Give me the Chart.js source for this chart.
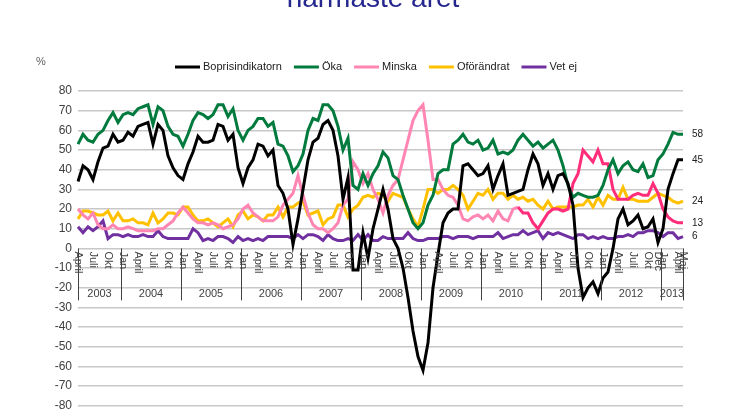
<!DOCTYPE html>
<html>
<head>
<meta charset="utf-8">
<script src="https://cdn.jsdelivr.net/npm/chart.js@4/dist/chart.umd.min.js"></script>
<style>
  body { margin: 0; background: #fff; overflow: hidden; }
  #wrap { position: relative; width: 746px; height: 419px; }
  #title { position: absolute; top: -18px; left: 0; width: 746px; text-align: center;
    font: 28px "Liberation Sans", Arial, sans-serif; color: #26268f; }
</style>
</head>
<body>
<div id="wrap">
  <div id="title">närmaste året</div>
  <canvas id="chart" width="746" height="419"></canvas>
</div>
<script>
// monthly, April 2003 - May 2013
const startYear = 2003;
const startMonth = 3; // April
const monthNames = ['Jan', 'Feb', 'Mars', 'April', 'Maj', 'Juni', 'Juli', 'Aug', 'Sep', 'Okt', 'Nov', 'Dec'];
const shownMonths = ['Jan', 'April', 'Juli', 'Okt'];
const extraTicks = { '2012-11': 'Dec', '2013-4': 'Maj' };
const years = ['2003', '2004', '2005', '2006', '2007', '2008', '2009', '2010', '2011', '2012', '2013'];

const boprisindikatorn = [
  34, 42, 40, 35, 44, 51, 52, 58, 54,
  55, 59, 57, 62, 63, 64, 53, 63, 60, 47, 41, 37,
  35, 43, 49, 57, 54, 54, 55, 63, 62, 55, 58, 41,
  33, 41, 45, 53, 52, 47, 50, 32, 28, 20, 2, 15,
  30, 45, 54, 56, 63, 65, 60, 47, 25, 36, -11, -11,
  8, -5, 10, 20, 30, 20, 5, 0, -10, -25, -42, -55,
  -62, -48, -20, -3, 13, 18, 20, 20, 42, 43, 40, 37,
  38, 42, 30, 37, 43, 27, 28, 29, 30, 40, 48, 43,
  32, 38, 30, 37, 38, 33, 22, -10, -25, -20, -17, -23,
  -15, -12, 0, 15, 20, 12, 14, 17, 10, 11, 15, 3,
  10, 30, 38, 45, 45
];
const oka = [
  53, 58, 55, 54, 58, 60, 65, 69, 64,
  68, 69, 68, 71, 72, 73, 63, 72, 70, 62, 58, 57,
  52, 58, 65, 69, 68, 66, 68, 73, 73, 67, 71, 60,
  55, 60, 62, 66, 66, 62, 64, 53, 52, 47, 39, 42,
  48, 60, 66, 65, 73, 73, 70, 62, 50, 56, 32, 30,
  38, 32, 38, 42, 49, 46, 37, 35, 27, 20, 13, 10,
  13, 22, 27, 38, 40, 40, 53, 55, 58, 54, 53, 55,
  50, 51, 55, 48, 49, 48, 50, 55, 58, 55, 52, 54,
  51, 53, 55, 50, 42, 32, 26, 28, 27, 26, 26, 27,
  32, 40, 45, 38, 42, 44, 40, 39, 43, 36, 37, 45,
  48, 53, 59, 58, 58
];
const minska = [
  20, 17, 15, 18, 12, 10, 10, 12, 10,
  10, 11, 10, 9, 9, 9, 9, 10, 10, 12, 14, 18,
  21, 18, 15, 13, 13, 12, 13, 12, 10, 11, 12, 15,
  20, 22, 18, 16, 14, 14, 14, 16, 22, 25, 28, 37,
  27, 18, 12, 10, 10, 8, 10, 13, 22, 25, 44, 40,
  33, 38, 30, 25, 18, 27, 32, 35, 45, 55, 65, 70,
  73, 55, 35, 35, 30, 27, 26, 22, 15, 14, 16, 17,
  15, 17, 14, 19, 15, 14, 20, 21, 18, 18, 13, 10,
  14, 18, 20, 20, 19, 20, 33, 38, 50, 47, 44, 50,
  43, 43, 30, 25, 25, 25, 27, 28, 27, 27, 33, 28,
  20, 16, 14, 13, 13
];
const oforandrat = [
  15, 19, 19, 18, 17, 17, 19, 14, 18,
  14, 14, 15, 13, 13, 12, 18, 13, 15, 18, 18, 17,
  21, 21, 17, 14, 14, 15, 13, 11, 13, 15, 11, 17,
  19, 15, 17, 16, 14, 17, 17, 21, 16, 21, 21, 23,
  24, 17, 18, 19, 12, 15, 16, 22, 22, 16, 20, 22,
  26, 27, 26, 28, 27, 24, 28, 27, 26, 20, 15, 11,
  20, 30, 30, 28, 30, 30, 32, 30, 27, 20, 24, 28,
  27, 30, 25, 28, 28, 25, 27, 25, 26, 24, 25, 22,
  20, 24, 20, 21, 21, 21, 21, 22, 22, 25, 21, 26,
  22, 27, 25, 25, 31, 25, 25, 24, 24, 24, 26, 28,
  27, 26, 24, 23, 24
];
const vetEj = [
  11, 8, 11, 9, 11, 14, 5, 7, 7,
  6, 7, 6, 6, 7, 6, 6, 9, 6, 5, 5, 5,
  5, 5, 10, 8, 4, 5, 4, 6, 6, 5, 3, 6,
  4, 5, 4, 5, 4, 6, 6, 6, 6, 6, 5, 7,
  5, 7, 7, 6, 4, 7, 5, 4, 4, 5, 4, 7,
  4, 7, 4, 4, 6, 5, 5, 5, 5, 8, 5, 4,
  4, 5, 5, 5, 6, 6, 5, 6, 6, 6, 5, 6,
  6, 6, 6, 8, 5, 6, 7, 7, 9, 7, 8, 9,
  5, 8, 7, 8, 7, 6, 5, 7, 7, 5, 6, 5,
  6, 5, 5, 6, 6, 7, 6, 8, 8, 9, 9, 8,
  6, 8, 8, 5, 6
];

const labels = boprisindikatorn.map((_, i) => {
  const m = (startMonth + i) % 12;
  const y = startYear + Math.floor((startMonth + i) / 12);
  return { year: y, month: m, name: monthNames[m] };
});

const series = [
  { label: 'Boprisindikatorn', data: boprisindikatorn, color: '#000000' },
  { label: 'Öka', data: oka, color: '#007a3d' },
  { label: 'Minska', data: minska, color: '#ff85b3' },
  { label: 'Oförändrat', data: oforandrat, color: '#ffc000' },
  { label: 'Vet ej', data: vetEj, color: '#7030a0' }
];

const font = '"Liberation Sans", Arial, sans-serif';

const decorations = {
  id: 'decorations',
  afterDatasetsDraw(chart) {
    const ctx = chart.ctx;
    const x = chart.scales.x, y = chart.scales.y;
    const y0 = y.getPixelForValue(0);
    const area = chart.chartArea;
    ctx.save();
    // legend
    ctx.font = '11px ' + font;
    ctx.textBaseline = 'middle';
    ctx.textAlign = 'left';
    const lineW = 25, gap = 3, itemGap = 12;
    const widths = series.map(s => lineW + gap + ctx.measureText(s.label).width);
    const total = widths.reduce((a, b) => a + b, 0) + itemGap * (series.length - 1);
    let lx = 376 - total / 2;
    series.forEach((s, k) => {
      ctx.strokeStyle = s.color;
      ctx.lineWidth = 3;
      ctx.beginPath();
      ctx.moveTo(lx, 67);
      ctx.lineTo(lx + lineW, 67);
      ctx.stroke();
      ctx.fillStyle = '#202020';
      ctx.fillText(s.label, lx + lineW + gap, 67);
      lx += widths[k] + itemGap;
    });
    // month labels, rotated clockwise
    ctx.fillStyle = '#404040';
    labels.forEach((l, i) => {
      const key = l.year + '-' + l.month;
      const text = extraTicks[key] || (shownMonths.includes(l.name) ? l.name : null);
      if (!text) return;
      const px = x.getPixelForValue(i);
      ctx.save();
      ctx.translate(px, y0 + 3);
      ctx.rotate(Math.PI / 2);
      ctx.fillText(text, 0, 0);
      ctx.restore();
    });
    // year separators and labels
    ctx.strokeStyle = '#404040';
    ctx.lineWidth = 1;
    const bottom = y0 + 52;
    let spans = [];
    labels.forEach((l, i) => {
      if (i === 0 || l.month === 0) spans.push({ year: l.year, start: i });
    });
    spans.forEach((s, k) => {
      const end = k + 1 < spans.length ? spans[k + 1].start : labels.length;
      const xs = k === 0 ? area.left : x.getPixelForValue(s.start) - 2;
      const xe = k + 1 < spans.length ? x.getPixelForValue(end) - 2 : area.right;
      ctx.beginPath();
      ctx.moveTo(Math.round(xs) + 0.5, y0);
      ctx.lineTo(Math.round(xs) + 0.5, bottom);
      ctx.stroke();
      if (k === spans.length - 1) {
        ctx.beginPath();
        ctx.moveTo(Math.round(xe) + 0.5, y0);
        ctx.lineTo(Math.round(xe) + 0.5, bottom);
        ctx.stroke();
      }
      ctx.textAlign = 'center';
      ctx.fillText(years[k], (xs + xe) / 2, y0 + 46);
    });
    // end-value labels
    ctx.fillStyle = '#202020';
    ctx.font = '10px ' + font;
    ctx.textAlign = 'left';
    series.forEach(s => {
      const v = s.data[s.data.length - 1];
      ctx.fillText(String(v), area.right + 9, y.getPixelForValue(v));
    });
    // percent sign
    ctx.fillStyle = '#606060';
    ctx.font = '11px ' + font;
    ctx.fillText('%', 36, 62);
    ctx.restore();
  }
};

new Chart(document.getElementById('chart'), {
  type: 'line',
  data: {
    labels: labels.map(l => l.name + ' ' + l.year),
    datasets: series.map((s, si) => ({
      label: s.label,
      data: s.data,
      borderColor: s.color,
      backgroundColor: s.color,
      borderWidth: 3,
      pointRadius: 0,
      tension: 0,
      segment: si === 2 ? { borderColor: c => c.p0DataIndex >= 88 ? '#ff2d7a' : '#ff85b3' } : undefined
    }))
  },
  options: {
    responsive: false,
    animation: false,
    layout: { padding: { top: 91, right: 63, bottom: 10, left: 0 } },
    plugins: {
      legend: { display: false },
      tooltip: { enabled: false }
    },
    scales: {
      x: { display: false, offset: false },
      y: {
        min: -80, max: 80,
        afterFit(scale) { scale.width = 78; },
        ticks: { stepSize: 10, color: '#404040', font: { size: 12, family: font }, padding: 6 },
        grid: { color: '#c8c8c8', lineWidth: 1.5, drawTicks: false },
        border: { display: false }
      }
    }
  },
  plugins: [decorations]
});
</script>
</body>
</html>
